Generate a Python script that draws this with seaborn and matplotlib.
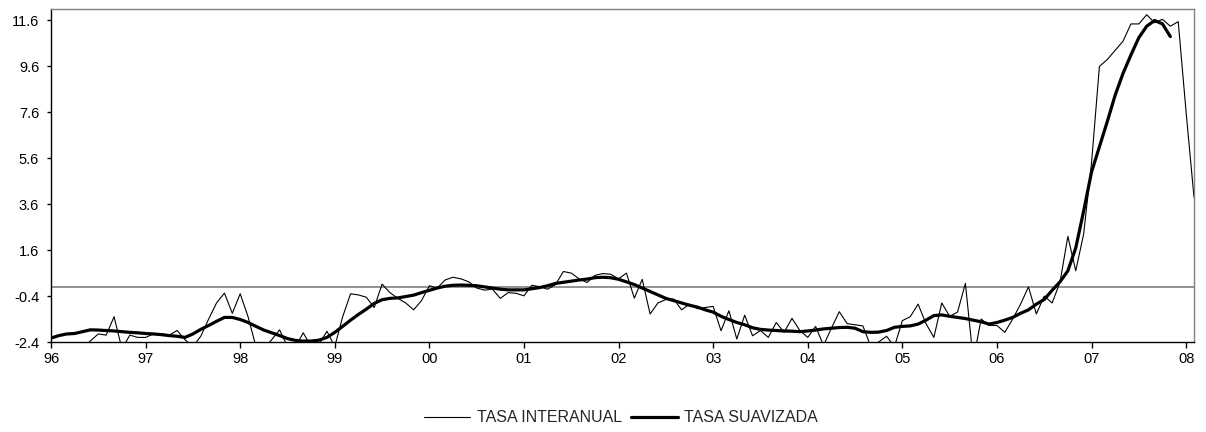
import numpy as np
import seaborn as sns
import matplotlib.pyplot as plt

# etiquetas del eje x (enero de cada año)
years = ['96', '97', '98', '99', '00', '01', '02', '03', '04', '05', '06', '07', '08']

# tasa interanual mensual, ene-1996 a feb-2008
interanual = [
    -2.9, -2.9, -3.0, -2.9, -2.7, -2.35, -2.05, -2.1, -1.3, -2.7, -2.1, -2.2,
    -2.2, -2.05, -2.05, -2.1, -1.9, -2.3, -2.6, -2.15, -1.4, -0.7, -0.27, -1.15,
    -0.3, -1.3, -2.6, -2.7, -2.3, -1.87, -2.6, -2.6, -2.0, -2.6, -2.5, -1.93,
    -2.6, -1.3, -0.3, -0.35, -0.45, -0.9, 0.12, -0.25, -0.5, -0.7, -1.0, -0.6,
    0.05, -0.05, 0.3, 0.42, 0.35, 0.22, -0.05, -0.14, -0.1, -0.5, -0.25, -0.28,
    -0.39, 0.07, 0.01, -0.1, 0.1, 0.67, 0.6, 0.35, 0.19, 0.5, 0.58, 0.55,
    0.35, 0.6, -0.49, 0.33, -1.18, -0.7, -0.55, -0.53, -1.0, -0.75, -0.95, -0.9,
    -0.85, -1.91, -1.04, -2.27, -1.23, -2.13, -1.9, -2.2, -1.55, -1.98, -1.37, -1.9,
    -2.2, -1.72, -2.55, -1.8, -1.08, -1.6, -1.65, -1.7, -2.6, -2.4, -2.15, -2.6,
    -1.47, -1.3, -0.75, -1.6, -2.2, -0.7, -1.28, -1.1, 0.15, -3.2, -1.4, -1.68,
    -1.68, -1.98, -1.4, -0.75, 0.0, -1.18, -0.4, -0.7, 0.2, 2.2, 0.7, 2.3,
    5.4, 9.6, 9.9, 10.3, 10.7, 11.45, 11.45, 11.85, 11.5, 11.65, 11.35, 11.55,
    7.6, 3.9,
]

# tasa suavizada mensual, ene-1996 a nov-2007
suavizada = [
    -2.23, -2.12, -2.05, -2.03, -1.95, -1.87, -1.88, -1.9, -1.92, -1.95, -1.98, -2.0,
    -2.03, -2.05, -2.08, -2.12, -2.15, -2.2, -2.05, -1.85, -1.68, -1.5, -1.33, -1.33,
    -1.42, -1.55, -1.72, -1.88, -2.0, -2.12, -2.25, -2.33, -2.36, -2.36, -2.32, -2.2,
    -1.98, -1.72, -1.45, -1.2, -0.97, -0.72, -0.56, -0.5, -0.48, -0.42, -0.36, -0.25,
    -0.15, -0.05, 0.03, 0.07, 0.08, 0.07, 0.05, 0.0, -0.05, -0.1, -0.13, -0.13,
    -0.13, -0.08, -0.03, 0.05, 0.15, 0.2, 0.25, 0.3, 0.34, 0.4, 0.42, 0.4,
    0.33, 0.22, 0.1, -0.05, -0.2, -0.35, -0.5, -0.6, -0.7, -0.8, -0.88, -1.0,
    -1.1, -1.28, -1.42, -1.55, -1.65, -1.78, -1.85, -1.88, -1.9, -1.92, -1.93, -1.95,
    -1.92, -1.88, -1.83, -1.8, -1.77, -1.76, -1.8, -1.95, -1.98, -1.97, -1.9, -1.76,
    -1.72, -1.7, -1.62, -1.45, -1.25, -1.22, -1.28, -1.33, -1.38, -1.45, -1.52, -1.62,
    -1.55, -1.45, -1.33, -1.15, -1.0, -0.75, -0.55, -0.15, 0.22, 0.7, 1.7, 3.3,
    5.0, 6.1, 7.2, 8.35, 9.3, 10.1, 10.85, 11.35, 11.6, 11.45, 10.9,
]

sns.set_style('white')
plt.rcParams['font.family'] = ['Liberation Sans', 'DejaVu Sans']

t_int = 1996 + np.arange(len(interanual)) / 12
t_suav = 1996 + np.arange(len(suavizada)) / 12

fig = plt.figure(figsize=(12.06, 4.32), dpi=100)
ax = fig.add_axes([51 / 1206, 1 - 342 / 432, (1194 - 51) / 1206, (342 - 9) / 432])

ax.axhline(0, color='#808080', lw=1.2, zorder=1)
sns.lineplot(x=t_int, y=interanual, color='black', lw=0.8, ax=ax, label='TASA INTERANUAL')
sns.lineplot(x=t_suav, y=suavizada, color='black', lw=2.3, ax=ax, label='TASA SUAVIZADA')

ax.set_xlim(1996, 1996 + 145 / 12)
ax.set_ylim(-2.4, 12.1)

yt = np.arange(-2.4, 11.7, 2.0)
ax.set_yticks(yt)
ax.set_yticklabels(['%.1f' % v for v in yt])
ax.set_xticks(1996 + np.arange(len(years)))
ax.set_xticklabels(years)

ax.tick_params(axis='both', direction='out', width=1, colors='black', labelsize=10.5)
ax.tick_params(axis='y', length=3, pad=5.5)
ax.tick_params(axis='x', length=4, pad=3.5)
ax.tick_params(left=True, bottom=True)

for s in ['left', 'bottom']:
    ax.spines[s].set_color('black')
    ax.spines[s].set_linewidth(1)
for s in ['top', 'right']:
    ax.spines[s].set_color('#808080')
    ax.spines[s].set_linewidth(1)

handles, labels = ax.get_legend_handles_labels()
ax.get_legend().remove()
fig.legend(handles, labels, loc='center', bbox_to_anchor=(621 / 1206, 1 - 418 / 432),
           ncol=2, frameon=False, fontsize=11.5, handlelength=2.9,
           handletextpad=0.4, columnspacing=0.6)

fig.savefig('out.png', dpi=100)
